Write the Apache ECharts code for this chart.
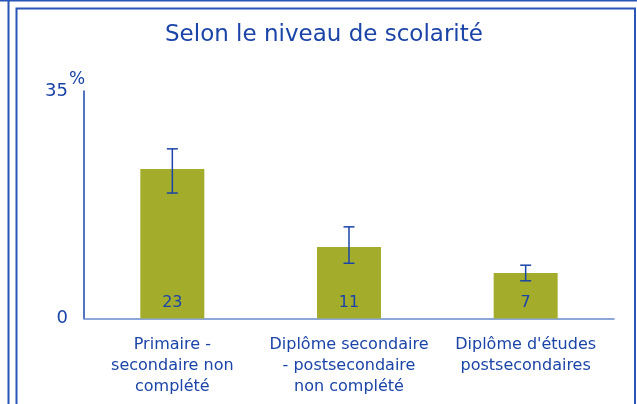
<!DOCTYPE html>
<html><head><meta charset="utf-8">
<script src="https://cdn.jsdelivr.net/npm/echarts@6/dist/echarts.min.js"></script>
<style>html,body{margin:0;padding:0;background:#fff}#c{width:637px;height:404px}</style>
</head><body><div id="c"></div>
<script>
const categories = ['Primaire -\nsecondaire non\ncomplété', 'Diplôme secondaire\n- postsecondaire\nnon complété', "Diplôme d'études\npostsecondaires"];
const values = [23, 11, 7];
const errLow = [19.3, 8.5, 5.8];
const errHigh = [26.1, 14.1, 8.2];
const yTicks = [0, 35];
const title = 'Selon le niveau de scolarité';
const unit = '%';

const blue = '#1b44a8';
const font = 'DejaVu Sans';
const chart = echarts.init(document.getElementById('c'), null, {renderer: 'canvas'});
chart.setOption({
  animation: false,
  backgroundColor: '#fff',
  title: {text: title, left: 160, top: 19, textStyle: {color: blue, fontFamily: font, fontWeight: 'normal', fontSize: 23}},
  graphic: [
    {type: 'line', shape: {x1: 0, y1: 0.5, x2: 637, y2: 0.5}, style: {stroke: '#2a55b8', lineWidth: 2}},
    {type: 'line', shape: {x1: 8.5, y1: 0, x2: 8.5, y2: 404}, style: {stroke: '#2a55b8', lineWidth: 2}},
    {type: 'polyline', shape: {points: [[16.5, 404], [16.5, 8.5], [635, 8.5], [635, 404]]}, style: {stroke: '#2a55b8', lineWidth: 2, fill: null}},
    {type: 'text', x: 69, y: 71, style: {text: unit, fill: blue, font: '17px "DejaVu Sans"'}}
  ],
  grid: {left: 84, right: 23, top: 91, bottom: 85.5},
  xAxis: {
    type: 'category', data: categories,
    axisLine: {lineStyle: {color: '#6a8bd0', width: 1.5}},
    axisTick: {show: false},
    axisLabel: {color: blue, fontFamily: font, fontSize: 16, lineHeight: 21, margin: 16, interval: 0}
  },
  yAxis: {
    type: 'value', min: yTicks[0], max: yTicks[1], interval: 35,
    axisLine: {show: true, lineStyle: {color: blue, width: 1.5}},
    axisTick: {show: false},
    splitLine: {show: false},
    axisLabel: {color: blue, fontFamily: font, fontSize: 18, margin: 16}
  },
  series: [
    {type: 'bar', data: values, barWidth: 64, itemStyle: {color: '#a3ad2b'},
     label: {show: true, position: 'insideBottom', distance: 8, color: blue, fontFamily: font, fontSize: 16}},
    {type: 'custom', data: errLow.map((l, i) => [i, l, errHigh[i]]),
     renderItem: function (params, api) {
       const i = api.value(0);
       const lo = api.coord([i, api.value(1)]);
       const hi = api.coord([i, api.value(2)]);
       const w = 5.5;
       const st = {stroke: blue, lineWidth: 1.5};
       return {type: 'group', children: [
         {type: 'line', shape: {x1: lo[0], y1: lo[1], x2: hi[0], y2: hi[1]}, style: st},
         {type: 'line', shape: {x1: lo[0] - w, y1: lo[1], x2: lo[0] + w, y2: lo[1]}, style: st},
         {type: 'line', shape: {x1: hi[0] - w, y1: hi[1], x2: hi[0] + w, y2: hi[1]}, style: st}
       ]};
     }, z: 10}
  ]
});
</script></body></html>
